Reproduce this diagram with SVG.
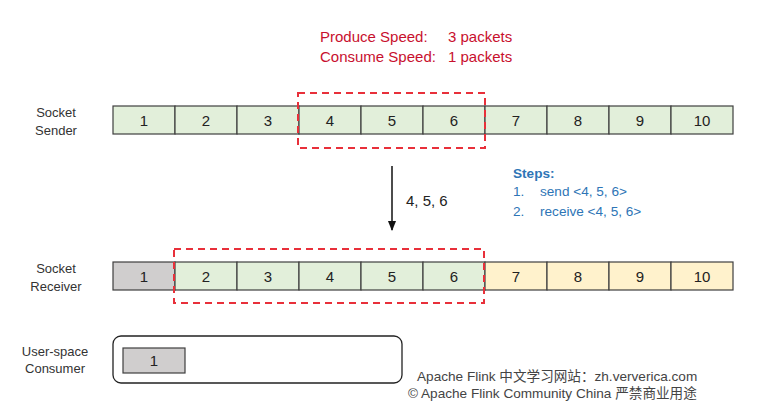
<svg xmlns="http://www.w3.org/2000/svg" width="768" height="405" viewBox="0 0 768 405">
<defs>
<style>
text{font-family:"Liberation Sans",Arial,sans-serif}
.g{fill:#e2efda;stroke:#3f3f3f;stroke-width:1.2}
.y{fill:#fff2cc;stroke:#3f3f3f;stroke-width:1.2}
.k{fill:#d0cece;stroke:#3f3f3f;stroke-width:1.2}
.n{font-size:15px;fill:#222;text-anchor:middle}
.lbl{font-size:13px;fill:#333;text-anchor:middle}
.red{font-size:15px;fill:#c8102e}
.blue{font-size:13.6px;fill:#2e75b6}
.dash{fill:none;stroke:#e8303a;stroke-width:2;stroke-dasharray:7,5}
.foot{font-size:13.6px;fill:#444;font-family:"Liberation Sans","Noto Sans CJK SC",sans-serif}
</style>
<marker id="ah" viewBox="0 0 10 10" refX="9" refY="5" markerWidth="7" markerHeight="7" orient="auto">
<path d="M0,1 L10,5 L0,9 z" fill="#111"/>
</marker>
</defs>
<rect width="768" height="405" fill="#fff"/>

<g id="speed">
<text class="red" x="320" y="42">Produce Speed:</text>
<text class="red" x="448" y="42">3 packets</text>
<text class="red" x="320" y="62">Consume Speed:</text>
<text class="red" x="448" y="62">1 packets</text>
</g>

<g id="sender">
<text class="lbl" x="56" y="117">Socket</text>
<text class="lbl" x="56" y="135">Sender</text>
<rect class="g" x="113" y="106" width="62" height="28"/><text class="n" x="144" y="126">1</text>
<rect class="g" x="175" y="106" width="62" height="28"/><text class="n" x="206" y="126">2</text>
<rect class="g" x="237" y="106" width="62" height="28"/><text class="n" x="268" y="126">3</text>
<rect class="g" x="299" y="106" width="62" height="28"/><text class="n" x="330" y="126">4</text>
<rect class="g" x="361" y="106" width="62" height="28"/><text class="n" x="392" y="126">5</text>
<rect class="g" x="423" y="106" width="62" height="28"/><text class="n" x="454" y="126">6</text>
<rect class="g" x="485" y="106" width="62" height="28"/><text class="n" x="516" y="126">7</text>
<rect class="g" x="547" y="106" width="62" height="28"/><text class="n" x="578" y="126">8</text>
<rect class="g" x="609" y="106" width="62" height="28"/><text class="n" x="640" y="126">9</text>
<rect class="g" x="671" y="106" width="62" height="28"/><text class="n" x="702" y="126">10</text>
<rect class="dash" x="298" y="93" width="187" height="55"/>
</g>

<g id="connectors">
<line x1="392" y1="166" x2="392" y2="230" stroke="#111" stroke-width="1.5" marker-end="url(#ah)"/>
<text x="406" y="206" style="font-size:15px;fill:#222">4, 5, 6</text>
</g>

<g id="steps">
<text class="blue" x="513" y="178" font-weight="bold">Steps:</text>
<text class="blue" x="513" y="196">1.</text>
<text class="blue" x="540" y="196">send &lt;4, 5, 6&gt;</text>
<text class="blue" x="513" y="216">2.</text>
<text class="blue" x="540" y="216">receive &lt;4, 5, 6&gt;</text>
</g>

<g id="receiver">
<text class="lbl" x="56" y="273">Socket</text>
<text class="lbl" x="56" y="291">Receiver</text>
<rect class="k" x="113" y="262" width="62" height="28"/><text class="n" x="144" y="282">1</text>
<rect class="g" x="175" y="262" width="62" height="28"/><text class="n" x="206" y="282">2</text>
<rect class="g" x="237" y="262" width="62" height="28"/><text class="n" x="268" y="282">3</text>
<rect class="g" x="299" y="262" width="62" height="28"/><text class="n" x="330" y="282">4</text>
<rect class="g" x="361" y="262" width="62" height="28"/><text class="n" x="392" y="282">5</text>
<rect class="g" x="423" y="262" width="62" height="28"/><text class="n" x="454" y="282">6</text>
<rect class="y" x="485" y="262" width="62" height="28"/><text class="n" x="516" y="282">7</text>
<rect class="y" x="547" y="262" width="62" height="28"/><text class="n" x="578" y="282">8</text>
<rect class="y" x="609" y="262" width="62" height="28"/><text class="n" x="640" y="282">9</text>
<rect class="y" x="671" y="262" width="62" height="28"/><text class="n" x="702" y="282">10</text>
<rect class="dash" x="174" y="249" width="310" height="54"/>
</g>

<g id="consumer">
<text class="lbl" x="55" y="356">User-space</text>
<text class="lbl" x="55" y="373">Consumer</text>
<rect x="113" y="336" width="289" height="47" rx="8" fill="#fff" stroke="#222" stroke-width="1.3"/>
<rect class="k" x="123" y="348" width="62" height="25"/><text class="n" x="154" y="366">1</text>
</g>

<g id="footer">
<text class="foot" x="417" y="381">Apache Flink 中文学习网站：zh.ververica.com</text>
<text class="foot" x="408" y="398">© Apache Flink Community China  严禁商业用途</text>
</g>
</svg>
